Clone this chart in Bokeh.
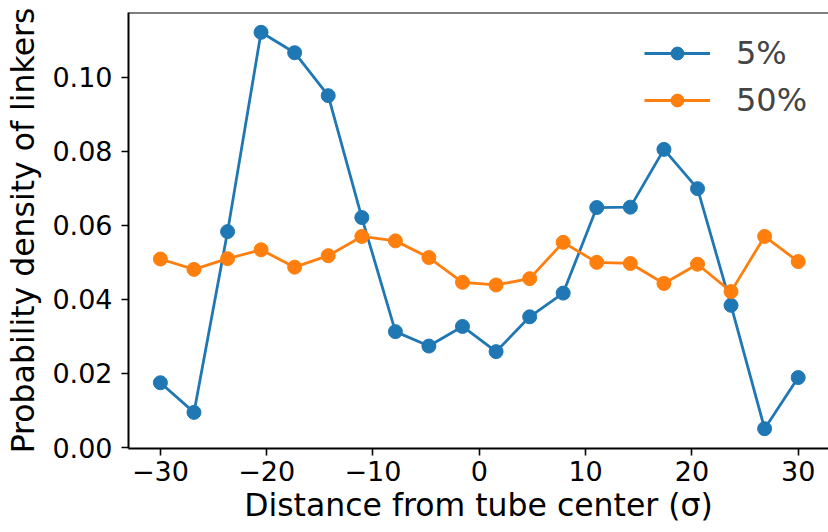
from bokeh.plotting import figure
from bokeh.models import Range1d, FixedTicker, PrintfTickFormatter, CustomJSTickFormatter, Span, Legend, LegendItem
from bokeh.embed import file_html
from bokeh.resources import INLINE

# Data
distance = [-30.0, -26.84, -23.68, -20.53, -17.37, -14.21, -11.05, -7.89, -4.74, -1.58,
            1.58, 4.74, 7.89, 11.05, 14.21, 17.37, 20.53, 23.68, 26.84, 30.0]
density_5 = [0.0175, 0.0095, 0.0583, 0.1121, 0.1066, 0.0950, 0.0621, 0.0313, 0.0274, 0.0327,
             0.0259, 0.0353, 0.0417, 0.0648, 0.0649, 0.0805, 0.0699, 0.0384, 0.0051, 0.0189]
density_50 = [0.0509, 0.0481, 0.0510, 0.0534, 0.0487, 0.0518, 0.0570, 0.0558, 0.0513, 0.0446,
              0.0439, 0.0456, 0.0554, 0.0500, 0.0497, 0.0443, 0.0495, 0.0421, 0.0570, 0.0502]
series_labels = ["5%", "50%"]
x_ticks = [-30, -20, -10, 0, 10, 20, 30]
y_ticks = [0.00, 0.02, 0.04, 0.06, 0.08, 0.10]

BLUE = "#1f77b4"
ORANGE = "#ff7f0e"
FONT = "DejaVu Sans"

ymin = min(density_5 + density_50)
ymax = max(density_5 + density_50)
yspan = ymax - ymin

p = figure(width=828, height=532, output_backend="svg", toolbar_location=None,
           x_range=Range1d(-33, 32.85),
           y_range=Range1d(ymin - 0.05 * yspan, ymax + 0.05 * yspan),
           min_border_left=128, min_border_right=0, min_border_top=12, min_border_bottom=84)

p.background_fill_color = "white"
p.border_fill_color = "white"
p.outline_line_color = None
p.xgrid.visible = False
p.ygrid.visible = False

# top spine
p.add_layout(Span(location=p.y_range.end, dimension="width", line_color="black", line_width=2))

l1 = p.line(distance, density_5, line_color=BLUE, line_width=2.8)
s1 = p.scatter(distance, density_5, size=14, fill_color=BLUE, line_color=BLUE)
l2 = p.line(distance, density_50, line_color=ORANGE, line_width=2.8)
s2 = p.scatter(distance, density_50, size=14, fill_color=ORANGE, line_color=ORANGE)

legend = Legend(items=[LegendItem(label=series_labels[0], renderers=[l1, s1]),
                       LegendItem(label=series_labels[1], renderers=[l2, s2])],
                location=(516, 329))
legend.border_line_color = None
legend.background_fill_alpha = 0
legend.label_text_font = FONT
legend.label_text_font_size = "32px"
legend.glyph_width = 66
legend.glyph_height = 32
legend.label_height = 32
legend.label_standoff = 26
legend.spacing = 9
legend.padding = 5
legend.margin = 0
p.add_layout(legend)

for ax in (p.xaxis, p.yaxis):
    ax.axis_line_width = 2
    ax.axis_line_color = "black"
    ax.major_tick_in = 0
    ax.major_tick_out = 7
    ax.major_tick_line_width = 1.6
    ax.minor_tick_line_color = None
    ax.major_label_text_font = FONT
    ax.major_label_text_font_size = "27px"
    ax.major_label_text_color = "black"
    ax.axis_label_text_font = FONT
    ax.axis_label_text_font_size = "31.5px"
    ax.axis_label_text_font_style = "normal"
    ax.axis_label_text_color = "black"

p.xaxis.ticker = FixedTicker(ticks=x_ticks)
p.yaxis.ticker = FixedTicker(ticks=y_ticks)
p.xaxis.formatter = CustomJSTickFormatter(code="return tick < 0 ? '\\u2212' + Math.abs(tick).toFixed(0) : tick.toFixed(0);")
p.yaxis.formatter = PrintfTickFormatter(format="%.2f")
p.xaxis.major_label_standoff = 5
p.yaxis.major_label_standoff = 9
p.xaxis.axis_label = "Distance from tube center (σ)"
p.yaxis.axis_label = "Probability density of linkers"
p.xaxis.axis_label_standoff = 3
p.yaxis.axis_label_standoff = 8

open("out.html", "w").write(file_html(p, INLINE))
